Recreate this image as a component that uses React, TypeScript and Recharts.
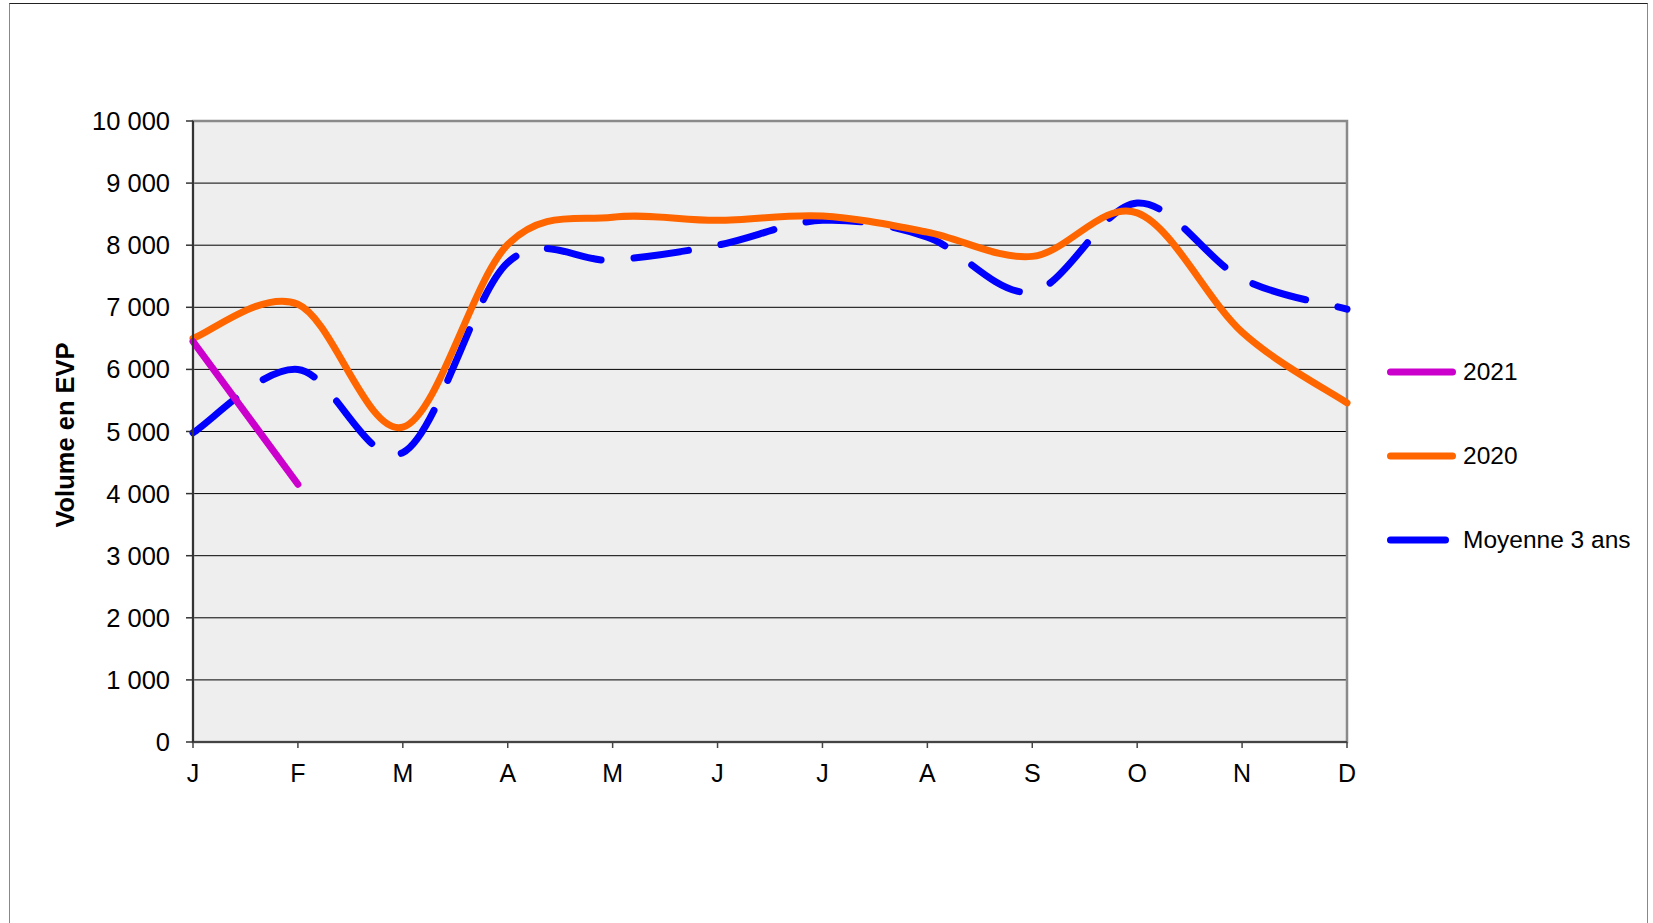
import React from 'react';
import {
  LineChart,
  Line,
  XAxis,
  YAxis,
  CartesianGrid,
  ReferenceArea,
  Legend,
} from 'recharts';

const months = ['J', 'F', 'M', 'A', 'M', 'J', 'J', 'A', 'S', 'O', 'N', 'D'];
const vol2021 = [6450, 4150];
const vol2020 = [6500, 7050, 5070, 8010, 8450, 8400, 8470, 8210, 7820, 8520, 6600, 5460];
const avg3 = [4980, 6000, 4660, 7720, 7760, 8000, 8400, 8130, 7250, 8680, 7460, 6970];
const yTicks = [0, 1000, 2000, 3000, 4000, 5000, 6000, 7000, 8000, 9000, 10000];

const series = [
  { key: 'y2021', name: '2021', color: '#CC00CC', dash: undefined as string | undefined },
  { key: 'y2020', name: '2020', color: '#FF6600', dash: undefined as string | undefined },
  { key: 'avg', name: 'Moyenne 3 ans', color: '#0000FF', dash: '55 33' },
];

const data = months.map((m, i) => ({
  month: m,
  y2021: i < vol2021.length ? vol2021[i] : null,
  y2020: vol2020[i],
  avg: avg3[i],
}));

const FONT = '"Liberation Sans", Arial, sans-serif';

const fmt = (v: number) => String(v).replace(/\B(?=(\d{3})+(?!\d))/g, ' ');

// Excel-like smoothing: cardinal spline, control points at 1/6 of neighbour span
const excelSmooth = (context: any) => {
  let pts: number[][] = [];
  return {
    areaStart() {},
    areaEnd() {},
    lineStart() {
      pts = [];
    },
    point(x: number, y: number) {
      pts.push([+x, +y]);
    },
    lineEnd() {
      const n = pts.length;
      if (!n) return;
      context.moveTo(pts[0][0], pts[0][1]);
      if (n === 2) {
        context.lineTo(pts[1][0], pts[1][1]);
        return;
      }
      for (let i = 0; i < n - 1; i++) {
        const p0 = pts[Math.max(i - 1, 0)];
        const p1 = pts[i];
        const p2 = pts[i + 1];
        const p3 = pts[Math.min(i + 2, n - 1)];
        context.bezierCurveTo(
          p1[0] + (p2[0] - p0[0]) / 6,
          p1[1] + (p2[1] - p0[1]) / 6,
          p2[0] - (p3[0] - p1[0]) / 6,
          p2[1] - (p3[1] - p1[1]) / 6,
          p2[0],
          p2[1],
        );
      }
    },
  };
};

const LegendBox = () => (
  <div style={{ fontFamily: FONT, fontSize: 24.5, color: '#000' }}>
    {series.map(s => (
      <div key={s.key} style={{ display: 'flex', alignItems: 'center', height: 84 }}>
        <svg width={69} height={10} style={{ display: 'block' }}>
          <line
            x1={3.5}
            y1={5}
            x2={65.5}
            y2={5}
            stroke={s.color}
            strokeWidth={7}
            strokeLinecap="round"
            strokeDasharray={s.dash}
          />
        </svg>
        <span style={{ marginLeft: 7 }}>{s.name}</span>
      </div>
    ))}
  </div>
);

const YTitle = (props: any) => (
  <text
    x={65}
    y={435}
    transform="rotate(-90 65 435)"
    textAnchor="middle"
    dominantBaseline="central"
    fontFamily={FONT}
    fontWeight="bold"
    fontSize={25.5}
    fill="#000"
  >
    Volume en EVP
  </text>
);

export default function App() {
  return (
    <div style={{ position: 'absolute', left: 0, top: 0, width: 1653, height: 923, background: '#fff', overflow: 'hidden' }}>
      <div
        style={{
          position: 'absolute',
          left: 9,
          top: 3,
          width: 1637,
          height: 960,
          borderLeft: '1px solid #888',
          borderRight: '1px solid #888',
          borderTop: '1.5px solid #222',
        }}
      />
      <div style={{ position: 'absolute', left: 0, top: 0 }}>
        <LineChart width={1653} height={923} data={data} margin={{ top: 121, right: 306, bottom: 121, left: 0 }}>
          <CartesianGrid vertical={false} stroke="#000" strokeWidth={1} fill="#EEEEEE" />
          <ReferenceArea y1={0} y2={10000} fill="none" stroke="#8a8a8a" strokeWidth={2.5} />
          <XAxis
            dataKey="month"
            height={60}
            axisLine={{ stroke: '#444', strokeWidth: 2 }}
            tickLine={{ stroke: '#444', strokeWidth: 1.5 }}
            tickSize={6}
            tickMargin={16}
            tick={{ fontSize: 25, fill: '#000', fontFamily: FONT }}
            interval={0}
          />
          <YAxis
            width={193}
            domain={[0, 10000]}
            ticks={yTicks}
            tickFormatter={fmt}
            axisLine={{ stroke: '#333', strokeWidth: 2 }}
            tickLine={{ stroke: '#333', strokeWidth: 1.5 }}
            tickSize={7}
            tickMargin={16}
            tick={{ fontSize: 25.5, fill: '#000', fontFamily: FONT }}
            label={<YTitle />}
          />
          <Legend
            layout="horizontal"
            align="center"
            verticalAlign="middle"
            content={<LegendBox />}
            wrapperStyle={{ left: 1387, top: 330, width: 266, height: 252 }}
          />
          {[...series].reverse().map(s => (
            <Line
              key={s.key}
              dataKey={s.key}
              name={s.name}
              type={excelSmooth as any}
              stroke={s.color}
              strokeWidth={7}
              strokeLinecap="round"
              strokeDasharray={s.dash}
              dot={false}
              activeDot={false}
              connectNulls={false}
              isAnimationActive={false}
            />
          ))}
        </LineChart>
      </div>
    </div>
  );
}
